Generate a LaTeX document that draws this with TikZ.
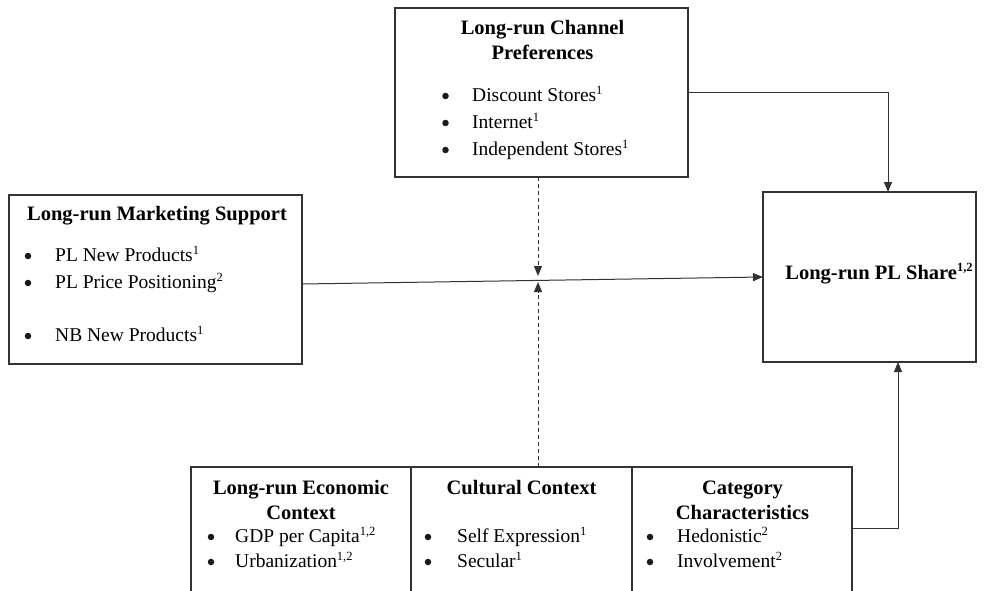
\documentclass[tikz,border=0pt]{standalone}
\usepackage{fontspec}
\setmainfont{Liberation Serif}
\usetikzlibrary{arrows.meta}
\newcommand{\mysup}[1]{\raisebox{0.36em}{\fontsize{12.5}{12.5}\selectfont #1}}
\begin{document}
\begin{tikzpicture}[x=1pt,y=-1pt,
 box/.style={draw=black!80, line width=1.1pt, inner sep=0pt, outer sep=0pt},
 ttl/.style={font=\fontsize{20.5}{25}\selectfont\bfseries, align=center, inner sep=0pt, anchor=base},
 itm/.style={font=\fontsize{19.5}{24}\selectfont, anchor=base west, inner sep=0pt},
 bul/.style={circle, fill=black!90, inner sep=0pt, minimum size=6.5pt},
 conn/.style={draw=black!80, line width=1pt, -{Triangle[length=10pt,width=8pt]}},
 dconn/.style={conn, dash pattern=on 4pt off 3pt}]
\useasboundingbox (0,0) rectangle (985,591);
\clip (0,0) rectangle (985,591);
% boxes
\node[box, minimum width=293pt, minimum height=169pt] (chan) at (541.5,92.5) {};
\node[box, minimum width=293pt, minimum height=169pt] (mkt) at (155.5,279.5) {};
\node[box, minimum width=213pt, minimum height=170pt] (pl) at (869.5,277) {};
\node[box, minimum width=220pt, minimum height=153pt] (econ) at (301,543.5) {};
\node[box, minimum width=221pt, minimum height=153pt] (cult) at (521.5,543.5) {};
\node[box, minimum width=220pt, minimum height=153pt] (cat) at (742,543.5) {};
% channel texts
\node[ttl] (chanT) at (542.5,60) {Long-run Channel\\Preferences};
\node[bul] (cb1) at (445.5,96) {};
\node[bul] (cb2) at (445.5,123) {};
\node[bul] (cb3) at (445.5,150) {};
\node[itm] (ci1) at (472,101.5) {Discount Stores\mysup{1}};
\node[itm] (ci2) at (472,128.5) {Internet\mysup{1}};
\node[itm] (ci3) at (472,155.5) {Independent Stores\mysup{1}};
% marketing texts
\node[ttl] (mktT) at (157,220) {Long-run Marketing Support};
\node[bul] (mb1) at (28,256) {};
\node[bul] (mb2) at (28,283) {};
\node[bul] (mb3) at (28,336) {};
\node[itm] (mi1) at (55,261.5) {PL New Products\mysup{1}};
\node[itm] (mi2) at (55,288.5) {PL Price Positioning\mysup{2}};
\node[itm] (mi3) at (55,341.5) {NB New Products\mysup{1}};
% PL share
\node[ttl] (plT) at (879,279) {Long-run PL Share\mysup{1,2}};
% economic
\node[ttl] (econT) at (301,519) {Long-run Economic\\Context};
\node[bul] (eb1) at (211,537) {};
\node[bul] (eb2) at (211,562) {};
\node[itm] (ei1) at (235,542.5) {GDP per Capita\mysup{1,2}};
\node[itm] (ei2) at (235,567.5) {Urbanization\mysup{1,2}};
% cultural
\node[ttl] (cultT) at (521.5,494) {Cultural Context};
\node[bul] (ub1) at (428,537) {};
\node[bul] (ub2) at (428,562) {};
\node[itm] (ui1) at (457,542.5) {Self Expression\mysup{1}};
\node[itm] (ui2) at (457,567.5) {Secular\mysup{1}};
% category
\node[ttl] (catT) at (742.5,519) {Category\\Characteristics};
\node[bul] (kb1) at (650,537) {};
\node[bul] (kb2) at (650,562) {};
\node[itm] (ki1) at (677,542.5) {Hedonistic\mysup{2}};
\node[itm] (ki2) at (677,567.5) {Involvement\mysup{2}};
% connectors
\coordinate (m) at (538,280);
\draw[conn] (chan.east) -| ([xshift=18.5pt]pl.north);
\draw[conn] ([yshift=-4.5pt]mkt.east) -- (pl.west);
\draw[dconn] (chan.south -| m) -- ([yshift=4pt]m);
\draw[dconn] (cult.north -| m) -- ([yshift=-2pt]m);
\draw[conn] ([yshift=15.5pt]cat.east) -| ([xshift=28.5pt]pl.south);
\end{tikzpicture}
\end{document}
